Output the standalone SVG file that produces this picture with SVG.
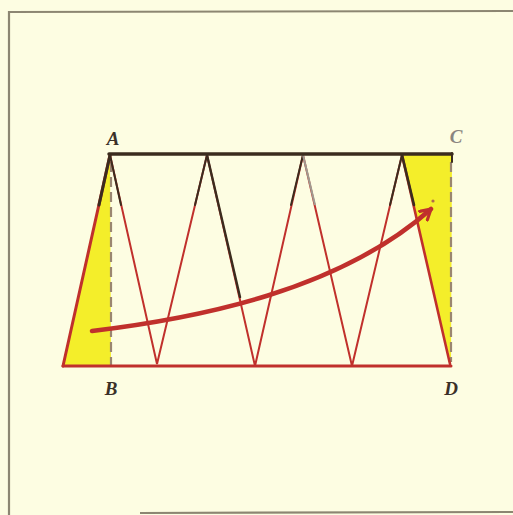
<svg xmlns="http://www.w3.org/2000/svg" width="513" height="515" viewBox="0 0 513 515">
<defs>
<style>
.frame{fill:none;stroke:#8c8672;stroke-width:2.2}
.dark{stroke:#3b2c1e;fill:none;stroke-linecap:round}
.red{stroke:#c0302c;fill:none;stroke-linecap:round}
.thin{stroke-width:2}
.dash{stroke:#9a8670;stroke-width:2.2;stroke-dasharray:10 5;fill:none}
.yel{fill:#f4ee2a}
.lbl{font-family:"Liberation Serif",serif;font-style:italic;font-weight:bold;font-size:19px;text-anchor:middle;fill:#3b3028}
</style>
<marker id="ah" viewBox="0 0 10 10" refX="8" refY="5" markerWidth="3.2" markerHeight="3.2" orient="auto" markerUnits="strokeWidth">
<path d="M1,1 L8,5 L1,9" fill="none" stroke="#c0302c" stroke-width="2.2" stroke-linecap="round" stroke-linejoin="round"/>
</marker>
</defs>
<rect x="0" y="0" width="513" height="515" fill="#fdfde2"/>
<path class="frame" d="M9,515 L9,12 L513,11"/>
<path class="frame" d="M140,513 L513,512" stroke-width="1.5"/>
<g id="fills">
<polygon class="yel" points="110,155 63,366 111,366"/>
<polygon class="yel" points="402,155 452,154 451,364"/>
</g>
<g id="connectors">
<line class="dash" x1="111" y1="162" x2="111" y2="366"/>
<line class="dash" x1="451" y1="162" x2="451" y2="362"/>
<line class="red" x1="63" y1="366" x2="451" y2="366" stroke-width="3"/>
<line class="red" x1="110" y1="155" x2="63" y2="366" stroke-width="3"/>
<line class="red" x1="402" y1="155" x2="450" y2="364" stroke-width="2.6"/>
<polyline class="red thin" points="110,155 157,364 207,155 255,366 303,155 352,366 402,155"/>
<line class="dark" x1="110" y1="155" x2="99" y2="205" stroke-width="3"/>
<line class="dark thin" x1="110" y1="155" x2="121" y2="205"/>
<line class="dark thin" x1="207" y1="155" x2="195" y2="205"/>
<line class="dark" x1="207" y1="155" x2="240" y2="297" stroke-width="2.4"/>
<line class="dark thin" x1="303" y1="155" x2="291" y2="205"/>
<line stroke="#a09a90" stroke-width="2" x1="303" y1="155" x2="315" y2="205"/>
<line class="dark thin" x1="402" y1="155" x2="390" y2="205"/>
<line class="dark" x1="402" y1="155" x2="414" y2="205" stroke-width="2.6"/>
<line class="dark" x1="109" y1="154" x2="452" y2="154" stroke-width="3.5"/>
<line class="dark" x1="452" y1="153" x2="452" y2="162" stroke-width="2"/>
<path class="red" d="M92,331 C200,318 340,290 431,209" stroke-width="4.5" marker-end="url(#ah)"/>
<circle cx="433" cy="201" r="1.6" fill="#b06a4a"/>
</g>
<g id="A"><text class="lbl" x="113" y="145">A</text></g>
<g id="B"><text class="lbl" x="111" y="395">B</text></g>
<g id="C"><text class="lbl" x="456" y="143" style="fill:#8a8580">C</text></g>
<g id="D"><text class="lbl" x="451" y="395">D</text></g>
</svg>
